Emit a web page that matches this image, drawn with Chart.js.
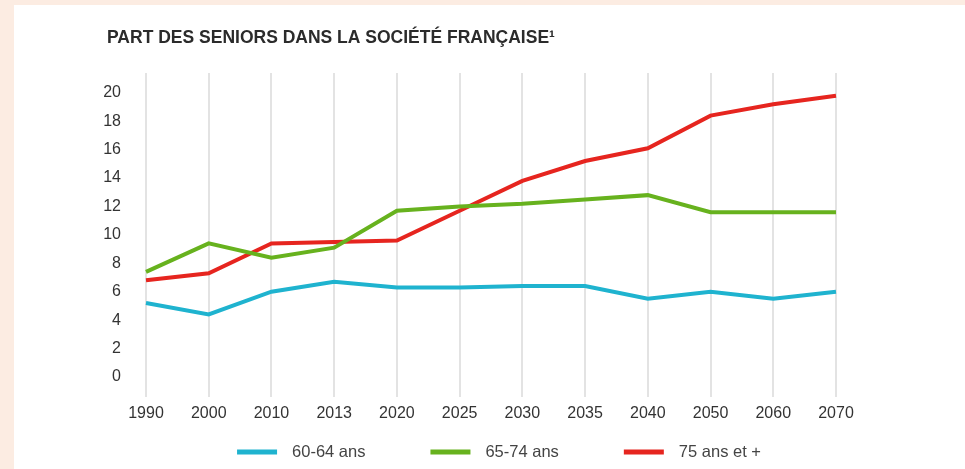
<!DOCTYPE html>
<html>
<head>
<meta charset="utf-8">
<script src="https://cdn.jsdelivr.net/npm/chart.js@4"></script>
<style>
  html, body { margin: 0; padding: 0; background: #fcece2; }
  #box { position: absolute; left: 14px; top: 5px; width: 951px; height: 464px; background: #ffffff; }
</style>
</head>
<body>
<div id="box"><canvas id="seniorsChart" width="951" height="464"></canvas></div>
<script>
const years = ["1990", "2000", "2010", "2013", "2020", "2025", "2030", "2035", "2040", "2050", "2060", "2070"];
const ages60to64 = [5.2, 4.4, 6.0, 6.7, 6.3, 6.3, 6.4, 6.4, 5.5, 6.0, 5.5, 6.0];
const ages65to74 = [7.4, 9.4, 8.4, 9.1, 11.7, 12.0, 12.2, 12.5, 12.8, 11.6, 11.6, 11.6];
const ages75plus = [6.8, 7.3, 9.4, 9.5, 9.6, 11.7, 13.8, 15.2, 16.1, 18.4, 19.2, 19.8];
const yTicks = [0, 2, 4, 6, 8, 10, 12, 14, 16, 18, 20];

const chartTitle = "PART DES SENIORS DANS LA SOCIÉTÉ FRANÇAISE¹";
const fontFamily = "'Liberation Sans', Arial, sans-serif";

function makeLine(label, data, color) {
  return {
    label: label,
    data: data,
    borderColor: color,
    backgroundColor: color,
    borderWidth: 4,
    pointRadius: 0,
    tension: 0
  };
}

// title sits over the y labels, not at the canvas edge, so draw it by hand
const titlePlugin = {
  id: "leftTitle",
  afterDraw: function(chart) {
    const c = chart.ctx;
    c.save();
    c.font = "bold 17.5px " + fontFamily;
    c.fillStyle = "#2b2b2b";
    c.textAlign = "left";
    c.textBaseline = "middle";
    c.fillText(chartTitle, chart.chartArea.left - 39, 33);
    c.restore();
  }
};

// wide spaced legend under the axis
const legendPlugin = {
  id: "wideLegend",
  afterDraw: function(chart) {
    const c = chart.ctx;
    const boxW = 40;
    const gapText = 15;
    const gapItem = 65;
    const y = 447;
    c.save();
    c.font = "16.5px " + fontFamily;
    c.textBaseline = "middle";
    c.textAlign = "left";

    let total = 0;
    chart.data.datasets.forEach(function(ds, i) {
      total = total + boxW + gapText + c.measureText(ds.label).width;
      if (i > 0) total = total + gapItem;
    });

    let x = (chart.chartArea.left + chart.chartArea.right) / 2 + 8 - total / 2;
    chart.data.datasets.forEach(function(ds) {
      c.fillStyle = ds.borderColor;
      c.fillRect(x, y - 2.5, boxW, 5);
      x = x + boxW + gapText;
      c.fillStyle = "#444444";
      c.fillText(ds.label, x, y);
      x = x + c.measureText(ds.label).width + gapItem;
    });
    c.restore();
  }
};

const ctx = document.getElementById("seniorsChart");
const myChart = new Chart(ctx, {
  type: "line",
  data: {
    labels: years,
    datasets: [
      makeLine("60-64 ans", ages60to64, "#1fb3cf"),
      makeLine("65-74 ans", ages65to74, "#67b21e"),
      makeLine("75 ans et +", ages75plus, "#e6251f")
    ]
  },
  options: {
    responsive: false,
    animation: false,
    layout: {
      padding: { left: 60, right: 129, top: 68, bottom: 39 }
    },
    plugins: {
      legend: { display: false },
      title: { display: false },
      tooltip: { enabled: false }
    },
    scales: {
      x: {
        offset: false,
        grid: { color: "#e3e3e3", lineWidth: 2, drawTicks: false },
        border: { display: false },
        ticks: {
          padding: 7,
          color: "#333333",
          maxRotation: 0,
          font: { family: fontFamily, size: 16 }
        }
      },
      y: {
        min: -1.4,
        max: 21.4,
        afterBuildTicks: function(scale) {
          scale.ticks = yTicks.map(function(v) { return { value: v }; });
        },
        afterFit: function(scale) {
          scale.width = 72;
        },
        grid: { display: false, drawTicks: false },
        border: { display: false },
        ticks: {
          padding: 25,
          color: "#333333",
          font: { family: fontFamily, size: 16 }
        }
      }
    }
  },
  plugins: [titlePlugin, legendPlugin]
});
</script>
</body>
</html>
